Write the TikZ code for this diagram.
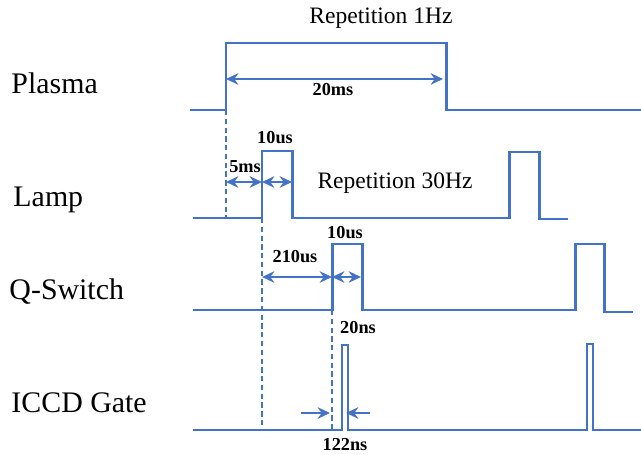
\documentclass[tikz,border=0pt]{standalone}
\usepackage{fontspec}
\setmainfont{LiberationSerif}[Extension=.ttf, UprightFont=*-Regular, BoldFont=*-Bold]
\usetikzlibrary{arrows.meta}
\definecolor{wave}{RGB}{68,114,196}

\begin{document}
\begin{tikzpicture}[x=0.02cm, y=-0.02cm, line width=1.7pt,
  sig/.style={wave, line join=miter},
  dim/.style={wave, line width=1.4pt, {Stealth[length=7pt,width=6.5pt]}-{Stealth[length=7pt,width=6.5pt]}},
  onearrow/.style={wave, line width=1.4pt, -{Stealth[length=7pt,width=6.5pt]}},
  guide/.style={wave, line width=0.6pt, dash pattern=on 3pt off 2pt},
  tag/.style={font=\fontsize{17}{20}\selectfont, anchor=west, inner sep=0pt},
  rep/.style={font=\fontsize{13.4}{16}\selectfont, inner sep=0pt},
  val/.style={font=\bfseries\fontsize{10.4}{12}\selectfont, inner sep=0pt}]
  \useasboundingbox (0,0) rectangle (641,455);

  % 各通道的上升沿、下降沿
  \coordinate (P1) at (226,110);
  \coordinate (P2) at (446,110);
  \coordinate (L1) at (262,218);
  \coordinate (L2) at (292,218);
  \coordinate (Q1) at (332,310);
  \coordinate (Q2) at (362,310);
  \coordinate (G1) at (342,430);
  \coordinate (G2) at (348,430);

  % 波形
  \draw[sig] (190,110) -- (P1) -- (226,43) -- (446,43) -- (P2) -- (641,110);
  \draw[sig] (193,218) -- (L1) -- (262,151) -- (292,151) -- (L2)
    -- (509,218) -- (509,152) -- (539,152) -- (539,219) -- (568,219);
  \draw[sig] (193,310) -- (Q1) -- (332,244) -- (362,244) -- (Q2)
    -- (575,310) -- (575,244) -- (604,244) -- (604,312) -- (633,312);
  \draw[sig, line width=1.5pt] (193,430) -- (G1) -- (342,345) -- (348,345) -- (G2)
    -- (587,430) -- (587,344) -- (593,344) -- (593,430) -- (641,430);

  % 虚线对齐
  \draw[guide] (P1) -- (226,218);
  \draw[guide] (L1) -- (262,430);
  \draw[guide] (Q1) -- (332,430);

  % 时间间隔标注
  \coordinate (a1) at (226,79);
  \coordinate (a2) at (443,79);
  \coordinate (b1) at (226,182);
  \coordinate (b2) at (262,182);
  \coordinate (b3) at (292,182);
  \coordinate (c1) at (262,277);
  \coordinate (c2) at (332,277);
  \coordinate (c3) at (361,277);
  \coordinate (d1) at (301,413);
  \coordinate (d2) at (330,413);
  \coordinate (d3) at (370,413);
  \coordinate (d4) at (346,413);
  \draw[dim] (a1) -- (a2);
  \draw[dim] (b1) -- (b2);
  \draw[dim] (b2) -- (b3);
  \draw[dim] (c1) -- (c2);
  \draw[dim] (c2) -- (c3);
  \draw[onearrow] (d1) -- (d2);
  \draw[onearrow] (d3) -- (d4);

  \node[val] (t20ms)  at (333,90)  {20ms};
  \node[val] (t5ms)   at (245,167) {5ms};
  \node[val] (t10usa) at (275,138) {10us};
  \node[val] (t210us) at (295,257) {210us};
  \node[val] (t10usb) at (345,233) {10us};
  \node[val] (t20ns)  at (358,328) {20ns};
  \node[val] (t122ns) at (345,445) {122ns};

  \node[rep] (rep1)  at (381,18)  {Repetition 1Hz};
  \node[rep] (rep30) at (395,183) {Repetition 30Hz};

  % 通道名称
  \node[tag] (plasma) at (10,83)  {Plasma};
  \node[tag] (lamp)   at (12,200) {Lamp};
  \node[tag] (qsw)    at (8,292)  {Q-Switch};
  \node[tag] (iccd)   at (10,403) {ICCD Gate};
\end{tikzpicture}
\end{document}
